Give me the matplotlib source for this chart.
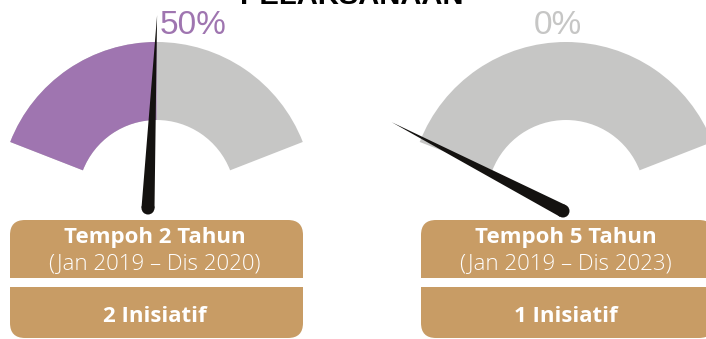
import numpy as np
import matplotlib.pyplot as plt
from matplotlib.patches import Wedge, Polygon, Circle, FancyBboxPatch, Rectangle

# gauge values
percent = [50, 0]
period_title = ['Tempoh 2 Tahun', 'Tempoh 5 Tahun']
period_range = ['(Jan 2019 \u2013 Dis 2020)', '(Jan 2019 \u2013 Dis 2023)']
initiatives = [2, 1]
heading = 'PELAKSANAAN'

# layout, in pixels
centre_x = [156.5, 566]
centre_y = 199
r_out, r_in = 157, 79
arc_from, arc_to = 158.7, 21.3
needle_from, needle_to = 152.6, 22.0
pivot_dx = [-8.5, -3]
pivot_dy = [9, 12]
label_x = [193, 558]
box_x = [10, 421]
box_w = 293

purple = '#9f75b0'
grey = '#c6c6c5'
tan = '#c89c65'
ink = '#141210'

fig = plt.figure(figsize=(7.06, 3.39), dpi=100)
ax = fig.add_axes([0, 0, 1, 1])
ax.set_xlim(0, 706)
ax.set_ylim(339, 0)
ax.set_aspect('equal')
ax.axis('off')

def to_mpl(a):
    # y axis is flipped, so angles run clockwise on screen
    return -a

for i, p in enumerate(percent):
    cx = centre_x[i]
    split = arc_from - (arc_from - arc_to) * p / 100
    # grey background arc, then the filled share
    ax.add_patch(Wedge((cx, centre_y), r_out, to_mpl(arc_from), to_mpl(arc_to),
                       width=r_out - r_in, color=grey, lw=0))
    if p > 0:
        ax.add_patch(Wedge((cx, centre_y), r_out, to_mpl(arc_from), to_mpl(split),
                           width=r_out - r_in, color=purple, lw=0))

    # needle
    ang = np.deg2rad(needle_from - (needle_from - needle_to) * p / 100)
    px, py = cx + pivot_dx[i], centre_y + pivot_dy[i]
    length = 193
    tip = (px + length * np.cos(ang), py - length * np.sin(ang))
    nx, ny = -np.sin(ang), -np.cos(ang)
    hw = 6.5
    ax.add_patch(Polygon([(px + hw * nx, py + hw * ny), tip, (px - hw * nx, py - hw * ny)],
                         closed=True, color=ink, lw=0, zorder=5))
    ax.add_patch(Circle((px, py), hw, color=ink, lw=0, zorder=5))

    ax.text(label_x[i], 26, f'{p}%', color=purple if p > 0 else grey,
            fontsize=24, family='Liberation Sans', ha='center', va='center')

    # info boxes
    bx = box_x[i]
    ax.add_patch(FancyBboxPatch((bx, 220), box_w, 75, boxstyle='round,pad=0,rounding_size=15',
                                color=tan, lw=0, zorder=2))
    ax.add_patch(FancyBboxPatch((bx, 270), box_w, 68, boxstyle='round,pad=0,rounding_size=15',
                                color=tan, lw=0, zorder=2))
    ax.add_patch(Rectangle((bx - 1, 278), box_w + 2, 9, color='white', lw=0, zorder=3))

    tx = bx + 145
    ax.text(tx, 238, period_title[i], color='white', fontsize=16, fontweight='bold',
            family='Open Sans', ha='center', va='center', zorder=4)
    ax.text(tx, 264, period_range[i], color='white', fontsize=16, fontweight='light',
            family='Open Sans', ha='center', va='center', zorder=4)
    ax.text(tx, 316, f'{initiatives[i]} Inisiatif', color='white', fontsize=16,
            fontweight='bold', family='Open Sans', ha='center', va='center', zorder=4)

ax.text(352, 4, heading, color='black', fontsize=21, fontweight='bold',
        family='Liberation Sans', ha='center', va='baseline')

fig.savefig('out.png', dpi=100)
